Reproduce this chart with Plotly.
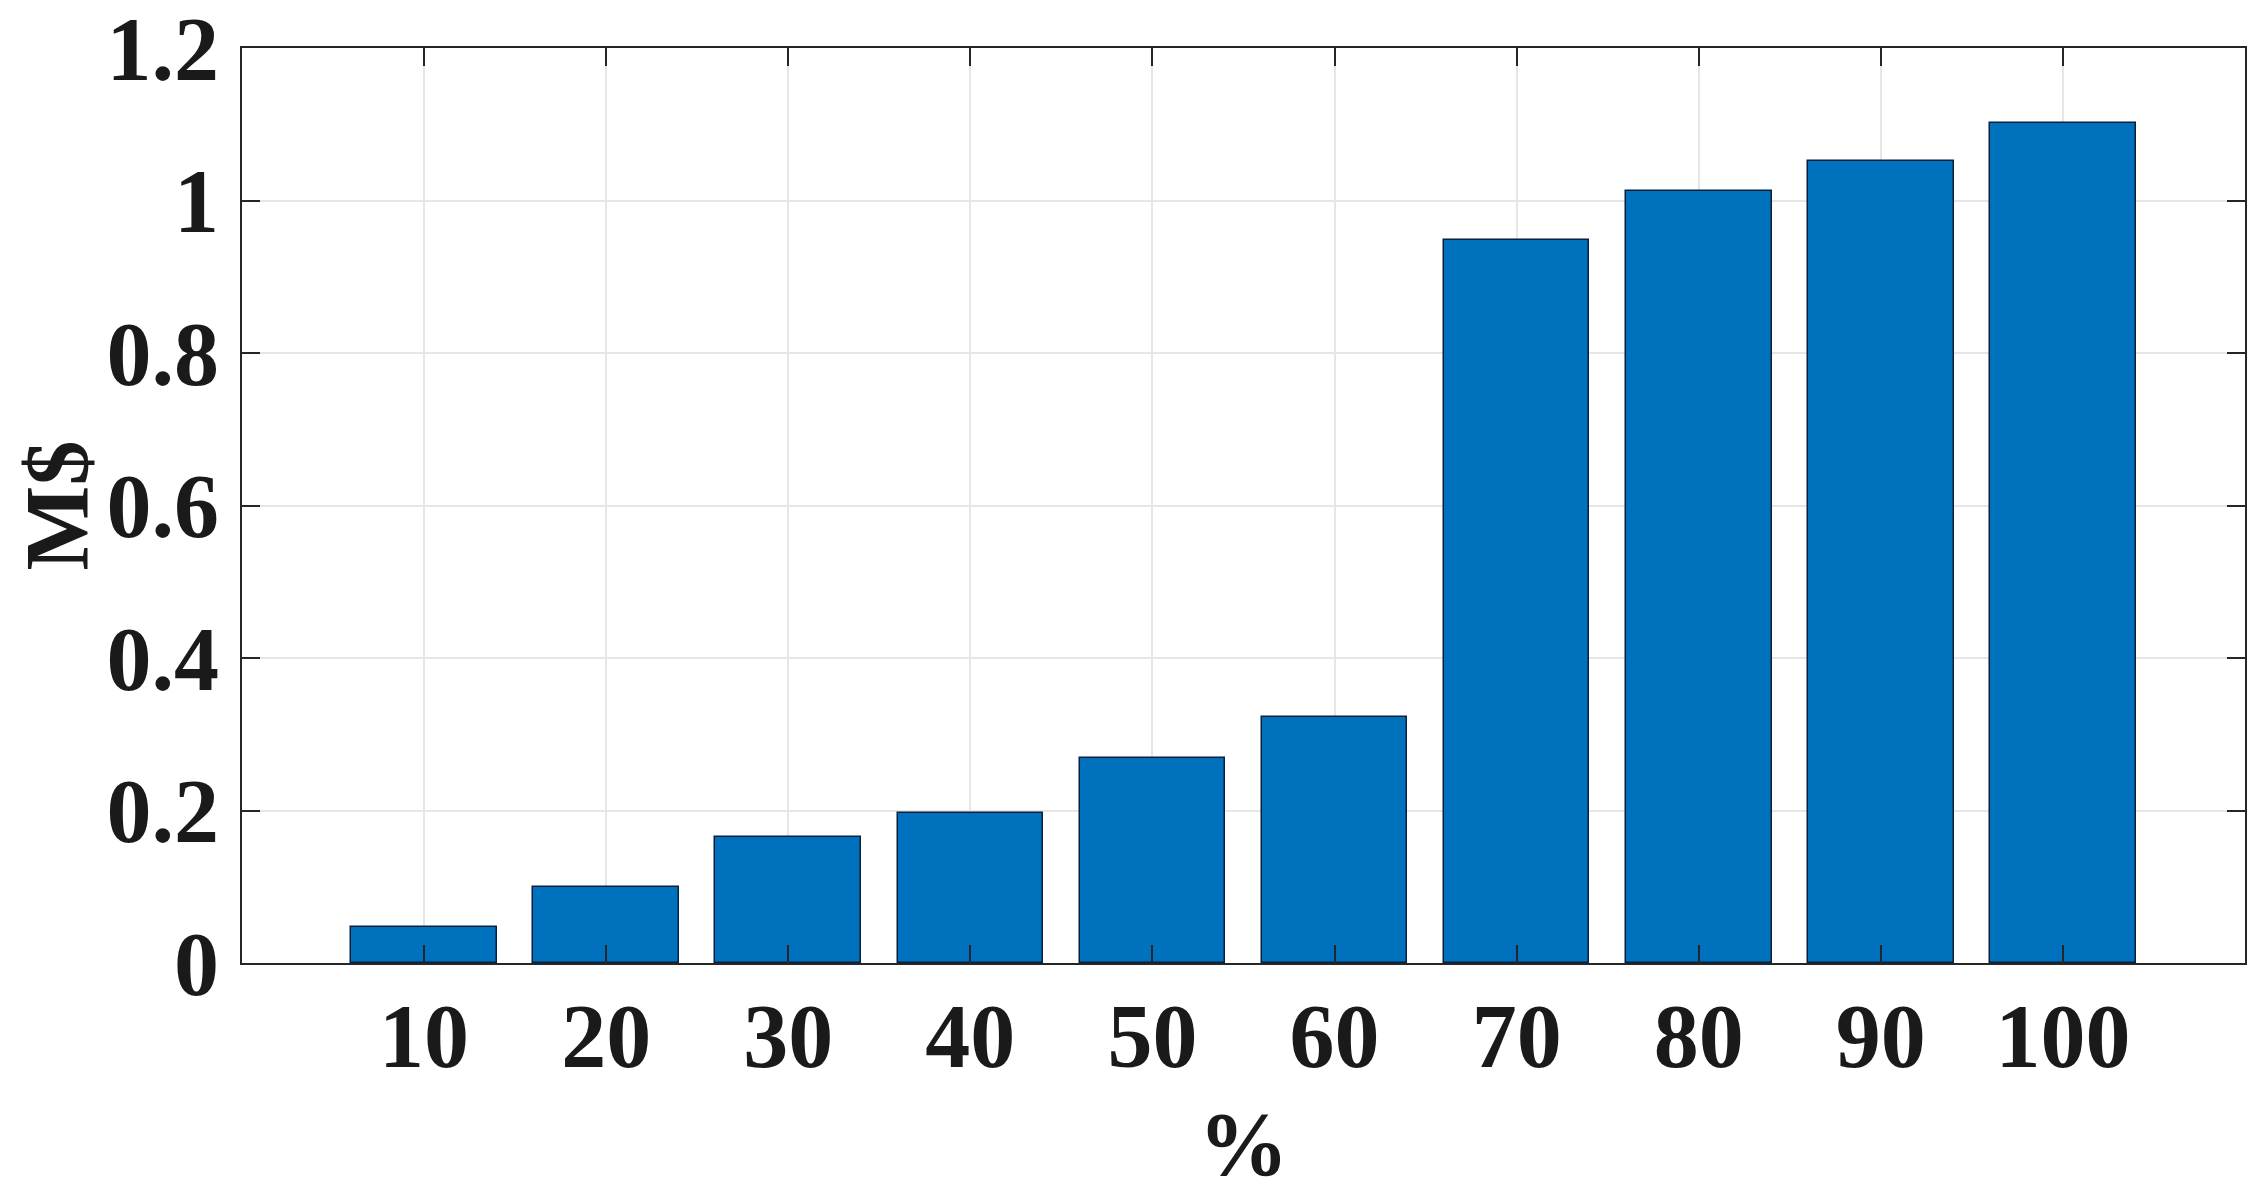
import plotly.graph_objects as go

categories = [10, 20, 30, 40, 50, 60, 70, 80, 90, 100]
values = [0.047, 0.100, 0.165, 0.197, 0.269, 0.322, 0.948, 1.012, 1.052, 1.101]
y_ticks = [0, 0.2, 0.4, 0.6, 0.8, 1, 1.2]
y_tick_labels = ["0", "0.2", "0.4", "0.6", "0.8", "1", "1.2"]

FONT = "Liberation Serif"
AX = "#262626"
TXT = "#1a1a1a"

fig = go.Figure()
fig.add_trace(go.Bar(
    x=categories, y=values, width=8,
    marker=dict(color="#0072BD", line=dict(color="#0a1f3d", width=1.5)),
))

# page body has an 8px default margin, so the figure is 16px smaller than the window
fig.update_layout(
    width=2246, height=1186, autosize=False,
    margin=dict(l=234, r=9, t=40, b=231),
    paper_bgcolor="white", plot_bgcolor="white",
    font=dict(family=FONT, size=90, color=TXT),
    showlegend=False, bargap=0,
)
fig.update_xaxes(
    range=[0, 110], tickmode="array", tickvals=categories,
    ticktext=[str(c) for c in categories], automargin=False,
    ticks="inside", ticklen=18, tickwidth=2, tickcolor=AX,
    showline=True, linecolor=AX, linewidth=2, mirror="ticks",
    showgrid=True, gridcolor="#e6e6e6", gridwidth=2, zeroline=False,
    tickfont=dict(family=FONT, size=90, color=TXT, weight="bold"),
    ticklabelstandoff=-6, ticklabeloverflow="allow",
    title=dict(text="<b>%</b>", font=dict(family=FONT, size=90, color=TXT), standoff=30),
)
fig.update_yaxes(
    range=[0, 1.2], tickmode="array", tickvals=y_ticks, ticktext=y_tick_labels,
    automargin=False,
    ticks="inside", ticklen=18, tickwidth=2, tickcolor=AX,
    showline=True, linecolor=AX, linewidth=2, mirror="ticks",
    showgrid=True, gridcolor="#e6e6e6", gridwidth=2, zeroline=False,
    tickfont=dict(family=FONT, size=90, color=TXT, weight="bold"),
    ticklabelstandoff=3, ticklabeloverflow="allow",
    title=dict(text="<b>M$</b>", font=dict(family=FONT, size=90, color=TXT), standoff=33),
)

fig.write_html("out.html")
